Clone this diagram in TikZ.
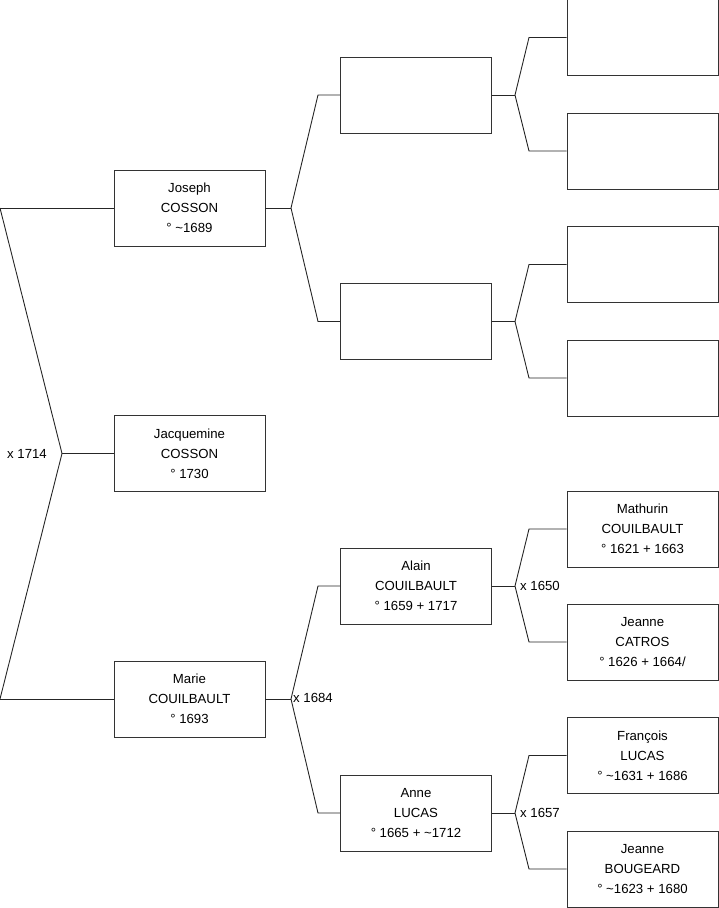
\documentclass[tikz,border=0pt]{standalone}
\usepackage{fontspec}
\setmainfont{Liberation Sans}
\begin{document}
\begin{tikzpicture}[x=1pt,y=-1pt,
  box/.style={draw=black!80, line width=0.9pt, minimum width=151pt, minimum height=76pt, inner sep=0pt, align=center, font=\fontsize{13.2}{20}\selectfont},
  link/.style={draw=black!85, line width=0.9pt},
  lbl/.style={font=\fontsize{13.2}{15}\selectfont, inner sep=0pt, anchor=west}]
\useasboundingbox (0,0) rectangle (719,908);
% generation 1
\node[box] (J)  at (189.5,208) {Joseph\\COSSON\\° \char`~1689};
\node[box] (Jq) at (189.5,453.5) {Jacquemine\\COSSON\\° 1730};
\node[box] (M)  at (189.5,699) {Marie\\COUILBAULT\\° 1693};
% generation 2
\node[box] (P1) at (416,95) {};
\node[box] (P2) at (416,321.5) {};
\node[box] (A)  at (416,586) {Alain\\COUILBAULT\\° 1659 + 1717};
\node[box] (L)  at (416,813) {Anne\\LUCAS\\° 1665 + \char`~1712};
% generation 3
\node[box] (G1) at (642.5,37.5) {};
\node[box] (G2) at (642.5,151) {};
\node[box] (G3) at (642.5,264.5) {};
\node[box] (G4) at (642.5,378) {};
\node[box] (G5) at (642.5,529) {Mathurin\\COUILBAULT\\° 1621 + 1663};
\node[box] (G6) at (642.5,642) {Jeanne\\CATROS\\° 1626 + 1664/};
\node[box] (G7) at (642.5,755.5) {François\\LUCAS\\° \char`~1631 + 1686};
\node[box] (G8) at (642.5,869) {Jeanne\\BOUGEARD\\° \char`~1623 + 1680};
% root connector
\coordinate (ra) at (0,208);
\coordinate (rb) at (0,699);
\coordinate (v0) at (62,453.5);
\draw[link] (ra) -- (J.west);
\draw[link] (rb) -- (M.west);
\draw[link] (ra) -- (v0) -- (rb);
\draw[link] (v0) -- (Jq.west);
\node[lbl] (m0) at (7,453.5) {x 1714};
% Joseph fork
\coordinate (vJ) at (291,208);
\coordinate (eJa) at (318,95);
\coordinate (eJb) at (318,321.5);
\draw[link] (J.east) -- (vJ);
\draw[link] (P1.west) -- (eJa) -- (vJ) -- (eJb) -- (P2.west);
% Marie fork
\coordinate (vM) at (291,699);
\coordinate (eMa) at (318,586);
\coordinate (eMb) at (318,813);
\draw[link] (M.east) -- (vM);
\draw[link] (A.west) -- (eMa) -- (vM) -- (eMb) -- (L.west);
\node[lbl] (m1) at (293,698) {x 1684};
% P1 fork
\coordinate (v1) at (515,95);
\coordinate (e1a) at (529,37.5);
\coordinate (e1b) at (529,151);
\draw[link] (P1.east) -- (v1);
\draw[link] (G1.west) -- (e1a) -- (v1) -- (e1b) -- (G2.west);
% P2 fork
\coordinate (v2) at (515,321.5);
\coordinate (e2a) at (529,264.5);
\coordinate (e2b) at (529,378);
\draw[link] (P2.east) -- (v2);
\draw[link] (G3.west) -- (e2a) -- (v2) -- (e2b) -- (G4.west);
% Alain fork
\coordinate (v3) at (515,586);
\coordinate (e3a) at (529,529);
\coordinate (e3b) at (529,642);
\draw[link] (A.east) -- (v3);
\draw[link] (G5.west) -- (e3a) -- (v3) -- (e3b) -- (G6.west);
\node[lbl] (m2) at (520,586) {x 1650};
% Anne fork
\coordinate (v4) at (515,813);
\coordinate (e4a) at (529,755.5);
\coordinate (e4b) at (529,869);
\draw[link] (L.east) -- (v4);
\draw[link] (G7.west) -- (e4a) -- (v4) -- (e4b) -- (G8.west);
\node[lbl] (m3) at (520,813) {x 1657};
\end{tikzpicture}
\end{document}
